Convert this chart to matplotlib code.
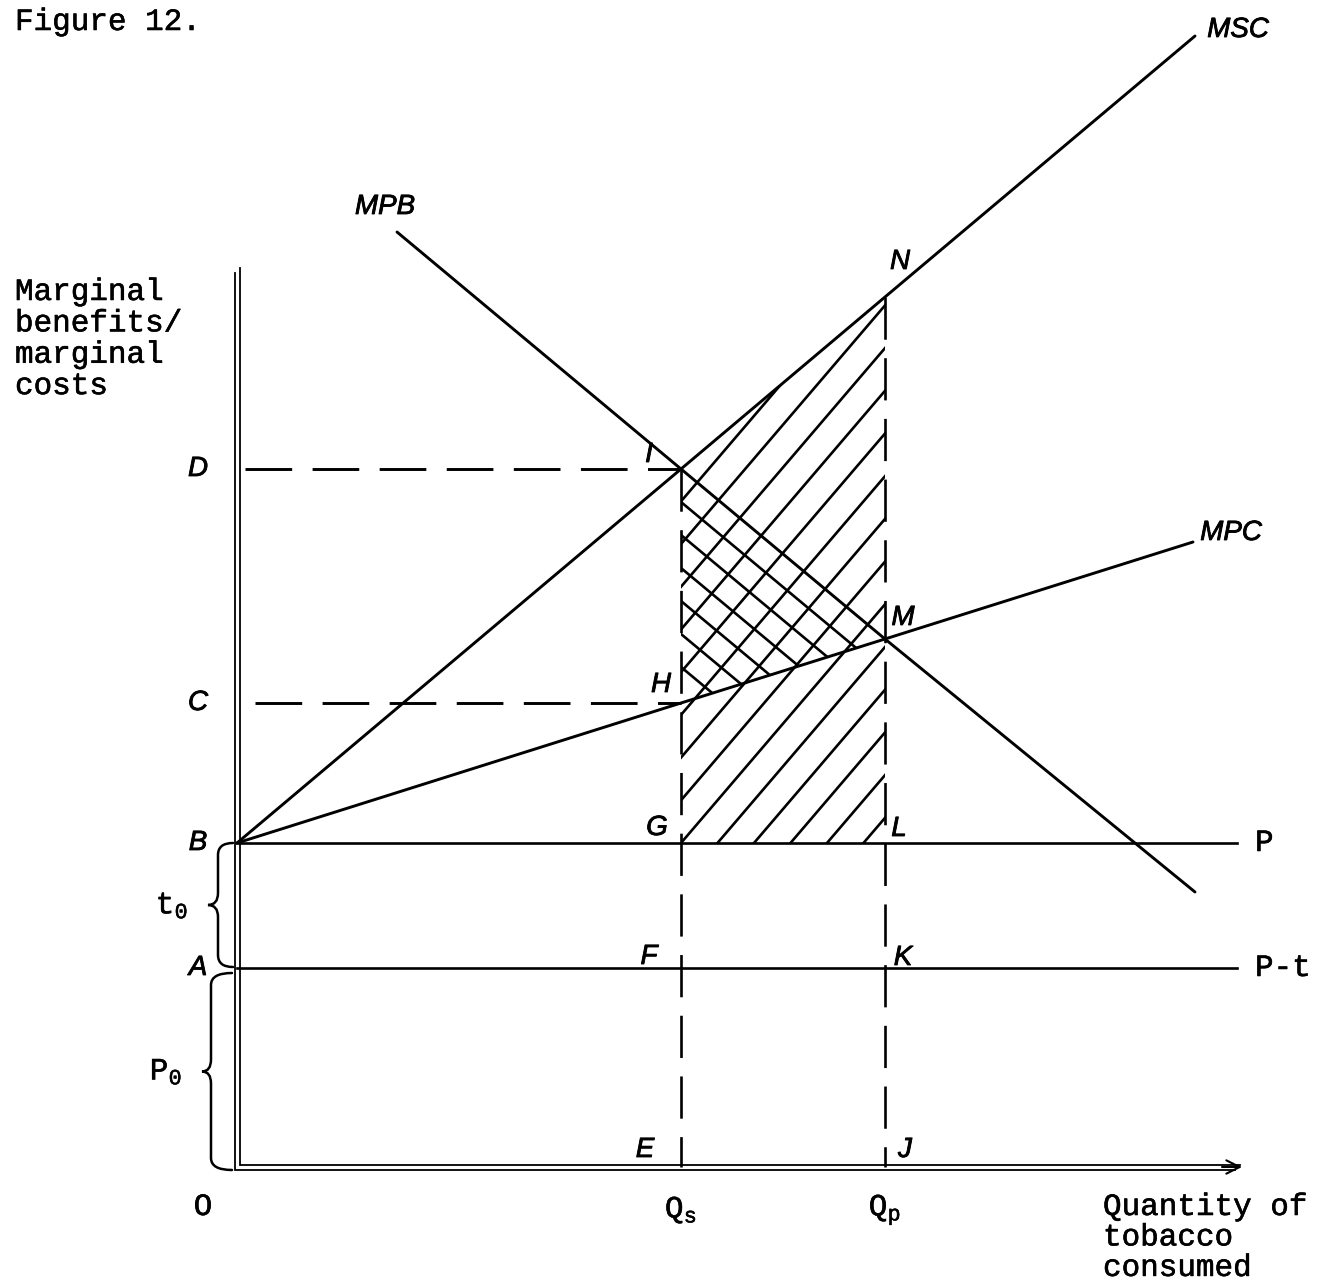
import numpy as np
import matplotlib
matplotlib.use("Agg")
import matplotlib.pyplot as plt
import matplotlib.patheffects as pe
from matplotlib.patches import Polygon, PathPatch
from matplotlib.path import Path
from matplotlib.transforms import offset_copy

# ---- values of the diagram (price units on the vertical, quantity on the horizontal)
level_names = ["A", "B", "C", "D"]
level_values = [19.9, 32.4, 46.4, 69.8]

qty_labels = ["Q$_s$", "Q$_p$"]
qty_values = [44.4, 64.8]

# marginal social cost
msc_q = [0.0, 44.4, 64.8, 95.8]
msc_v = [32.4, 69.8, 87.0, 113.1]
# marginal private cost
mpc_q = [0.0, 44.4, 64.8, 95.6]
mpc_v = [32.4, 46.4, 52.8, 62.5]
# marginal private benefit
mpb_q = [16.0, 44.4, 64.8, 95.8]
mpb_v = [93.5, 69.8, 52.8, 27.5]

price_labels = ["P", "P-t"]
bracket_labels = ["t$_0$", "P$_0$"]

# ---- styling
plt.rcParams["mathtext.fontset"] = "custom"
plt.rcParams["mathtext.rm"] = "Liberation Mono"
plt.rcParams["mathtext.it"] = "Liberation Mono"
plt.rcParams["mathtext.bf"] = "Liberation Mono:bold"
INK = "black"
TYPE = dict(family=["Liberation Mono", "DejaVu Sans Mono"], fontsize=22.3, color=INK,
            path_effects=[pe.withStroke(linewidth=0.4, foreground=INK)])
HAND = dict(family=["Liberation Sans", "DejaVu Sans"], fontstyle="italic", fontsize=20,
            color=INK, path_effects=[pe.withStroke(linewidth=0.6, foreground=INK)])
LW = 2.1
HLW = 1.9
AXLW = 1.3
DASH = (0, (16, 7))

fig = plt.figure(figsize=(13.19, 12.83), dpi=100)
ax = fig.add_axes([0, 0, 1, 1])
ax.set_xlim(-23.7, 108.2)
ax.set_ylim(-11.6, 116.7)
ax.axis("off")

A, B, C, D = level_values
qs, qp = qty_values
N_v = float(np.interp(qp, msc_q, msc_v))
M_v = float(np.interp(qp, mpc_q, mpc_v))
y_top, x_end = 89.7, 100.0


def shifted(dx, dy):
    return offset_copy(ax.transData, fig=fig, x=dx, y=dy, units="dots")


# double-ruled axes
for d in (-2.5, 2.5):
    ax.plot([0, 0, x_end], [y_top, 0, 0], color=INK, lw=AXLW,
            transform=shifted(d, d), solid_joinstyle="miter")
ax.annotate("", xy=(x_end + 0.5, 0), xytext=(x_end - 1.5, 0),
            arrowprops=dict(arrowstyle="->", lw=1.5, mutation_scale=24,
                            shrinkA=0, shrinkB=0, color=INK))

# price lines
for lvl in (B, A):
    ax.plot([0, x_end], [lvl, lvl], color=INK, lw=HLW)

# curves
for qv, vv in ((msc_q, msc_v), (mpc_q, mpc_v), (mpb_q, mpb_v)):
    ax.plot(qv, vv, color=INK, lw=LW, solid_capstyle="round")

# dashed guides
ax.plot([0.8, qs], [D, D], color=INK, lw=LW, ls=DASH)
ax.plot([1.8, qs], [C, C], color=INK, lw=LW, ls=DASH)
ax.plot([qs, qs], [D, 0], color=INK, lw=HLW, ls=DASH)
ax.plot([qp, qp], [N_v, 0], color=INK, lw=HLW, ls=DASH)

# single hatching of the area G-L-N-I
region = Polygon([(qs, B), (qp, B), (qp, N_v), (qs, D)], closed=True,
                 fill=False, lw=0, transform=ax.transData)
ax.add_patch(region)
slope_f, step_f = 1.17, 3.65
xs = np.array([qs - 2.0, qp + 2.0])
for k in range(-9, 6):
    q0 = qs + k * step_f
    ln, = ax.plot(xs, B + slope_f * (xs - q0), color=INK, lw=HLW)
    ln.set_clip_path(region)

# cross hatching of the triangle I-M-H
tri = Polygon([(qs, D), (qp, M_v), (qs, C)], closed=True, fill=False, lw=0,
              transform=ax.transData)
ax.add_patch(tri)
slope_b = (M_v - D) / (qp - qs)
for k in range(1, 7):
    y0 = D - k * 3.3
    ln, = ax.plot(xs, y0 + slope_b * (xs - qs), color=INK, lw=HLW)
    ln.set_clip_path(tri)


# curly brackets on the left of the vertical axis
def brace(x_end_, x_body, x_tip, y_hi, y_lo, r=1.2):
    ym = 0.5 * (y_hi + y_lo)
    verts = [(x_end_, y_hi), (x_body, y_hi), (x_body, y_hi - r),
             (x_body, ym + r), (x_body, ym), (x_tip, ym),
             (x_body, ym), (x_body, ym - r),
             (x_body, y_lo + r), (x_body, y_lo), (x_end_, y_lo)]
    codes = [Path.MOVETO, Path.CURVE3, Path.CURVE3,
             Path.LINETO, Path.CURVE3, Path.CURVE3,
             Path.CURVE3, Path.CURVE3,
             Path.LINETO, Path.CURVE3, Path.CURVE3]
    ax.add_patch(PathPatch(Path(verts, codes), fill=False, lw=1.8, color=INK,
                           capstyle="round"))


brace(-0.4, -1.9, -2.9, B, A + 0.1)
brace(-0.5, -2.6, -3.5, A - 0.5, -0.3)

# typewritten text
fig.text(15 / 1319, 1 - 22 / 1283, "Figure 12.", va="center", ha="left", **TYPE)
ax.text(-22.2, 89.0, "Marginal\nbenefits/\nmarginal\ncosts", ha="left", va="top",
        linespacing=1.06, **TYPE)
ax.text(-3.4, -4.0, "O", ha="center", va="center", **TYPE)
for lab, q in zip(qty_labels, qty_values):
    ax.text(q, -4.3, lab, ha="center", va="center", **TYPE)
ax.text(86.6, -2.5, "Quantity of\ntobacco\nconsumed", ha="left", va="top",
        linespacing=1.02, **TYPE)
ax.text(x_end + 1.8, B, price_labels[0], ha="left", va="center", **TYPE)
ax.text(x_end + 1.8, A, price_labels[1], ha="left", va="center", **TYPE)
ax.text(-6.5, 0.5 * (A + B), bracket_labels[0], ha="center", va="center", **TYPE)
ax.text(-7.1, 0.5 * A - 0.4, bracket_labels[1], ha="center", va="center", **TYPE)

# hand-lettered point and curve labels
for name, lvl in zip(level_names, level_values):
    ax.text(-3.9, lvl, name, ha="center", va="center", **HAND)
point_labels = [
    ("I", qs - 3.2, D + 1.4), ("H", qs - 2.0, C + 1.8),
    ("G", qs - 2.4, B + 1.5), ("F", qs - 3.2, A + 1.1), ("E", qs - 3.6, 1.7),
    ("N", qp + 1.5, N_v + 3.5), ("M", qp + 1.8, M_v + 2.1),
    ("L", qp + 1.4, B + 1.4), ("K", qp + 1.8, A + 1.0), ("J", qp + 2.0, 1.7),
]
for name, x, y in point_labels:
    ax.text(x, y, name, ha="center", va="center", **HAND)
ax.text(mpb_q[0] - 1.2, mpb_v[0] + 2.5, "MPB", ha="center", va="center", **HAND)
ax.text(msc_q[-1] + 4.3, msc_v[-1] + 0.6, "MSC", ha="center", va="center", **HAND)
ax.text(mpc_q[-1] + 3.8, mpc_v[-1] + 0.9, "MPC", ha="center", va="center", **HAND)

fig.savefig("out.png", dpi=100, facecolor="white")
